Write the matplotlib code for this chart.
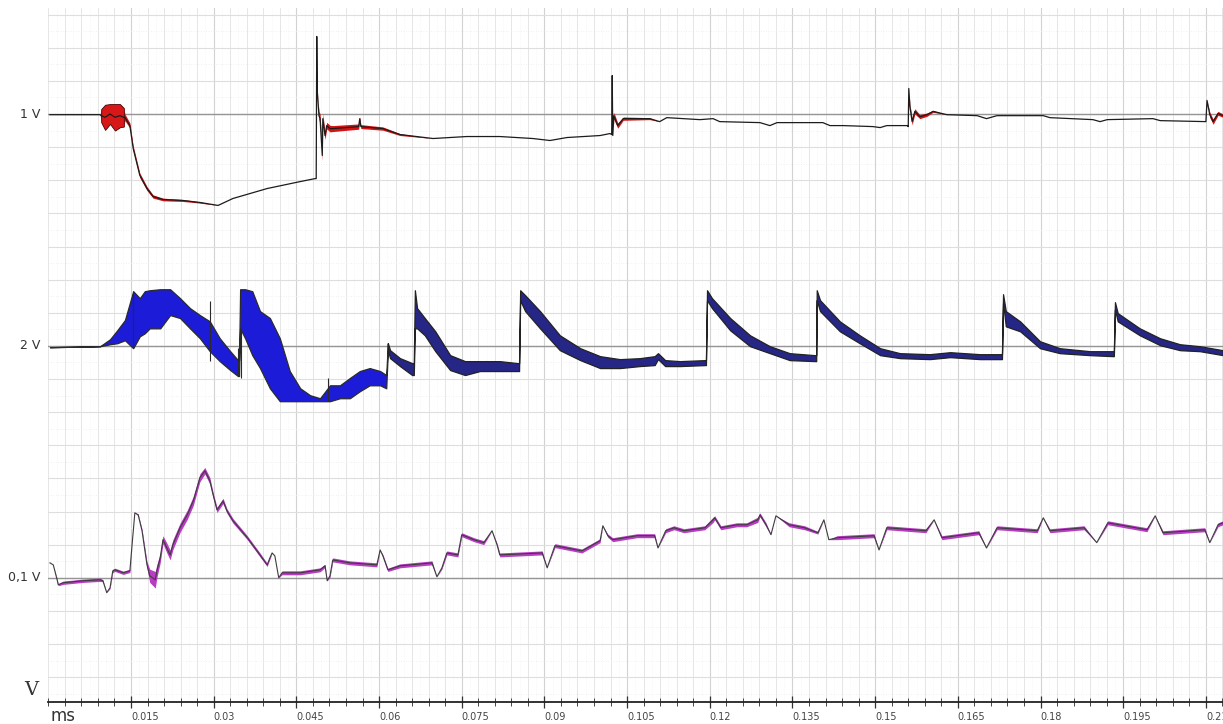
import numpy as np
import matplotlib
matplotlib.use("Agg")
import matplotlib.pyplot as plt
from matplotlib.ticker import MultipleLocator
from matplotlib.transforms import blended_transform_factory

# time axis (ms) and tick labels
tick_values = [0.015, 0.03, 0.045, 0.06, 0.075, 0.09, 0.105, 0.12,
               0.135, 0.15, 0.165, 0.18, 0.195, 0.21]
tick_labels = ["0.015", "0.03", "0.045", "0.06", "0.075", "0.09", "0.105",
               "0.12", "0.135", "0.15", "0.165", "0.18", "0.195", "0.21"]

# channel labels and their baseline offsets (in grid divisions)
channel_names = ["1 V", "2 V", "0,1 V"]
channel_offsets = [14, 7, 0]

# --- channel 1 (red): centre line and noise half-width, in divisions
ch1_t = [0.0003, 0.0094, 0.0096, 0.0103, 0.0112, 0.0121, 0.0130, 0.0137,
         0.0139, 0.0148, 0.0154, 0.0166,
         0.0179, 0.0190, 0.0208, 0.0244, 0.0275, 0.0308, 0.0335, 0.0397,
         0.0457, 0.0484, 0.0486, 0.0487, 0.0488, 0.0491, 0.0493, 0.0497,
         0.0498, 0.0502, 0.0505, 0.0511, 0.0516, 0.0563, 0.0565, 0.0567,
         0.0607, 0.0638, 0.0698, 0.0759, 0.0819, 0.0879, 0.0910, 0.0941,
         0.1001, 0.1019, 0.1022, 0.1023, 0.1024, 0.1026, 0.1028, 0.1033,
         0.1043, 0.1091, 0.1109, 0.1122, 0.1182, 0.1206, 0.1218, 0.1291,
         0.1309, 0.1322, 0.1405, 0.1418, 0.1442, 0.1496, 0.1509, 0.1521,
         0.1558, 0.1560, 0.1561, 0.1563, 0.1567, 0.1572, 0.1581, 0.1594,
         0.1605, 0.1630, 0.1685, 0.1702, 0.1721, 0.1805, 0.1817, 0.1895,
         0.1908, 0.1921, 0.2004, 0.2017, 0.2100, 0.2102, 0.2107, 0.2113,
         0.2122, 0.2131]
ch1_v = [-0.02, -0.02, -0.05, -0.10, 0.00, -0.10, -0.05, -0.10,
         -0.10, -0.35, -1.04, -1.85,
         -2.25, -2.49, -2.58, -2.61, -2.67, -2.76, -2.55, -2.25,
         -2.04, -1.95, -1.95, 2.34, 0.68, -0.05, -0.14, -1.25,
         -0.14, -0.65, -0.35, -0.44, -0.44, -0.38, -0.14, -0.38,
         -0.44, -0.62, -0.74, -0.68, -0.68, -0.74, -0.80, -0.71,
         -0.65, -0.59, -0.62, 1.16, -0.65, -0.05, -0.14, -0.35,
         -0.14, -0.14, -0.23, -0.11, -0.17, -0.14, -0.23, -0.26,
         -0.35, -0.26, -0.26, -0.35, -0.35, -0.38, -0.41, -0.35,
         -0.35, -0.38, 0.77, 0.23, -0.23, 0.08, -0.08, -0.02,
         0.08, -0.02, -0.05, -0.14, -0.05, -0.05, -0.11, -0.17,
         -0.23, -0.17, -0.14, -0.20, -0.23, 0.41, -0.02, -0.23,
         0.02, -0.05]
ch1_s = [0.0, 0.0, 0.20, 0.38, 0.30, 0.40, 0.35, 0.28,
         0.10, 0.08, 0.08, 0.07,
         0.06, 0.05, 0.04, 0.03, 0.02, 0.0, 0.0, 0.0,
         0.0, 0.0, 0.0, 0.0, 0.0, 0.12, 0.15, 0.15,
         0.15, 0.12, 0.10, 0.10, 0.09, 0.08, 0.05, 0.06,
         0.05, 0.03, 0.0, 0.0, 0.0, 0.0, 0.0, 0.0,
         0.0, 0.0, 0.0, 0.0, 0.0, 0.10, 0.10, 0.08,
         0.05, 0.03, 0.0, 0.0, 0.0, 0.0, 0.0, 0.0,
         0.0, 0.0, 0.0, 0.0, 0.0, 0.0, 0.0, 0.0,
         0.0, 0.0, 0.0, 0.08, 0.10, 0.08, 0.06, 0.05,
         0.03, 0.0, 0.0, 0.0, 0.0, 0.0, 0.0, 0.0,
         0.0, 0.0, 0.0, 0.0, 0.0, 0.0, 0.08, 0.08,
         0.06, 0.05]

# --- channel 2 (blue): upper and lower envelope, in divisions
ch2_t = [0.0003, 0.0094, 0.0112, 0.0125, 0.0139, 0.0154, 0.0166, 0.0175,
         0.0184, 0.0203, 0.0221, 0.0239, 0.0257, 0.0275, 0.0293, 0.0311,
         0.0330, 0.0344, 0.0346, 0.0348, 0.0357, 0.0370, 0.0384, 0.0402,
         0.0420, 0.0438, 0.0457, 0.0475, 0.0493, 0.0511, 0.0529, 0.0547,
         0.0565, 0.0583, 0.0602, 0.0613, 0.0616, 0.0620, 0.0638, 0.0660,
         0.0663, 0.0665, 0.0669, 0.0683, 0.0702, 0.0729, 0.0756, 0.0783,
         0.0819, 0.0852, 0.0854, 0.0856, 0.0865, 0.0892, 0.0928, 0.0965,
         0.1001, 0.1037, 0.1073, 0.1100, 0.1106, 0.1119, 0.1146, 0.1191,
         0.1193, 0.1195, 0.1204, 0.1237, 0.1273, 0.1309, 0.1345, 0.1391,
         0.1393, 0.1394, 0.1400, 0.1436, 0.1472, 0.1509, 0.1545, 0.1599,
         0.1636, 0.1690, 0.1726, 0.1730, 0.1732, 0.1737, 0.1763, 0.1799,
         0.1835, 0.1890, 0.1931, 0.1933, 0.1935, 0.1940, 0.1980, 0.2017,
         0.2053, 0.2089, 0.2131]
ch2_hi = [-0.04, -0.01, 0.20, 0.47, 0.78, 1.65, 1.44, 1.65,
          1.68, 1.71, 1.71, 1.44, 1.14, 0.93, 0.74, 0.23,
          -0.16, -0.43, -0.43, 1.71, 1.71, 1.65, 1.05, 0.84,
          0.23, -0.76, -1.28, -1.49, -1.58, -1.19, -1.19, -0.97,
          -0.76, -0.67, -0.76, -0.88, 0.08, -0.13, -0.37, -0.52,
          -0.52, 1.68, 1.14, 0.84, 0.44, -0.28, -0.46, -0.46,
          -0.46, -0.52, -0.52, 1.68, 1.53, 1.05, 0.32, -0.07,
          -0.31, -0.40, -0.37, -0.31, -0.22, -0.43, -0.46, -0.43,
          -0.43, 1.68, 1.44, 0.84, 0.32, -0.01, -0.22, -0.28,
          -0.28, 1.68, 1.38, 0.74, 0.32, -0.07, -0.22, -0.25,
          -0.19, -0.25, -0.25, -0.25, 1.56, 1.05, 0.74, 0.14,
          -0.07, -0.16, -0.16, -0.16, 1.32, 0.99, 0.53, 0.23,
          0.05, -0.01, -0.13]
ch2_lo = [-0.04, -0.01, 0.05, 0.08, 0.17, -0.07, 0.29, 0.38,
          0.53, 0.53, 0.93, 0.84, 0.53, 0.23, -0.16, -0.46,
          -0.73, -0.91, -0.91, 0.53, 0.23, -0.28, -0.67, -1.28,
          -1.67, -1.67, -1.67, -1.67, -1.67, -1.67, -1.58, -1.58,
          -1.37, -1.19, -1.19, -1.28, -0.13, -0.37, -0.61, -0.88,
          -0.88, 0.53, 0.53, 0.32, -0.16, -0.73, -0.88, -0.76,
          -0.76, -0.76, -0.76, 1.38, 1.05, 0.53, -0.13, -0.43,
          -0.67, -0.67, -0.61, -0.58, -0.40, -0.61, -0.61, -0.58,
          -0.58, 1.38, 1.14, 0.47, -0.01, -0.22, -0.43, -0.46,
          -0.46, 1.38, 1.05, 0.44, 0.08, -0.28, -0.37, -0.40,
          -0.34, -0.40, -0.40, -0.40, 1.30, 0.59, 0.44, -0.07,
          -0.22, -0.28, -0.31, -0.31, 1.10, 0.74, 0.32, 0.02,
          -0.13, -0.16, -0.28]
# isolated spikes on channel 2: time, top, bottom
ch2_spike_t = [0.0154, 0.0293, 0.0344, 0.0350, 0.0507]
ch2_spike_top = [1.65, 1.35, -0.07, 0.50, -0.97]
ch2_spike_bot = [-0.07, -0.46, -0.91, -0.97, -1.67]

# --- channel 3 (magenta): centre line and noise half-width, in divisions
ch3_t = [0.0003, 0.0009, 0.0016, 0.0018, 0.0027, 0.0063, 0.0094, 0.0099,
         0.0106, 0.0112, 0.0117, 0.0121, 0.0136, 0.0148, 0.0152, 0.0157,
         0.0163, 0.0170, 0.0179, 0.0184, 0.0194, 0.0197, 0.0203, 0.0208,
         0.0215, 0.0221, 0.0226, 0.0239, 0.0252, 0.0263, 0.0275, 0.0284,
         0.0293, 0.0299, 0.0306, 0.0317, 0.0324, 0.0335, 0.0361, 0.0384,
         0.0397, 0.0402, 0.0406, 0.0411, 0.0418, 0.0424, 0.0457, 0.0493,
         0.0502, 0.0506, 0.0511, 0.0516, 0.0547, 0.0596, 0.0602, 0.0607,
         0.0616, 0.0638, 0.0696, 0.0705, 0.0714, 0.0723, 0.0743, 0.0750,
         0.0772, 0.0790, 0.0805, 0.0814, 0.0819, 0.0896, 0.0905, 0.0919,
         0.0968, 0.1001, 0.1006, 0.1015, 0.1024, 0.1068, 0.1100, 0.1106,
         0.1120, 0.1135, 0.1153, 0.1191, 0.1206, 0.1209, 0.1220, 0.1249,
         0.1267, 0.1287, 0.1291, 0.1302, 0.1311, 0.1320, 0.1344, 0.1372,
         0.1396, 0.1407, 0.1416, 0.1431, 0.1498, 0.1507, 0.1521, 0.1592,
         0.1607, 0.1621, 0.1688, 0.1702, 0.1721, 0.1794, 0.1805, 0.1817,
         0.1879, 0.1902, 0.1922, 0.1993, 0.2008, 0.2022, 0.2098, 0.2107,
         0.2122, 0.2131]
ch3_v = [0.45, 0.39, -0.06, -0.21, -0.15, -0.09, -0.06, -0.09,
         -0.45, -0.30, 0.21, 0.24, 0.15, 0.21, 1.00, 1.96,
         1.90, 1.42, 0.39, 0.06, -0.06, 0.21, 0.60, 1.15,
         0.90, 0.69, 1.00, 1.51, 1.90, 2.32, 3.02, 3.23,
         2.93, 2.50, 2.05, 2.32, 2.02, 1.72, 1.21, 0.69,
         0.39, 0.60, 0.75, 0.66, 0.00, 0.15, 0.15, 0.24,
         0.36, -0.09, 0.06, 0.54, 0.45, 0.39, 0.84, 0.66,
         0.24, 0.36, 0.45, 0.03, 0.30, 0.75, 0.69, 1.30,
         1.15, 1.06, 1.42, 1.00, 0.69, 0.75, 0.30, 0.97,
         0.81, 1.12, 1.57, 1.27, 1.15, 1.27, 1.27, 0.90,
         1.42, 1.51, 1.42, 1.51, 1.75, 1.81, 1.51, 1.60,
         1.60, 1.75, 1.90, 1.60, 1.30, 1.87, 1.60, 1.51,
         1.36, 1.75, 1.15, 1.21, 1.27, 0.84, 1.51, 1.42,
         1.75, 1.21, 1.36, 0.90, 1.51, 1.42, 1.81, 1.42,
         1.51, 1.06, 1.66, 1.45, 1.87, 1.36, 1.45, 1.06,
         1.60, 1.66]
ch3_s = [0.0, 0.0, 0.03, 0.03, 0.05, 0.05, 0.05, 0.03,
         0.0, 0.03, 0.05, 0.05, 0.05, 0.05, 0.0, 0.0,
         0.03, 0.05, 0.10, 0.20, 0.25, 0.20, 0.15, 0.12,
         0.15, 0.15, 0.15, 0.14, 0.14, 0.14, 0.12, 0.10,
         0.10, 0.08, 0.08, 0.08, 0.07, 0.07, 0.06, 0.06,
         0.05, 0.04, 0.0, 0.0, 0.0, 0.06, 0.06, 0.06,
         0.05, 0.0, 0.05, 0.06, 0.06, 0.06, 0.0, 0.04,
         0.05, 0.06, 0.06, 0.0, 0.04, 0.06, 0.06, 0.06,
         0.06, 0.06, 0.0, 0.04, 0.06, 0.06, 0.0, 0.06,
         0.06, 0.06, 0.0, 0.05, 0.06, 0.06, 0.06, 0.0,
         0.06, 0.06, 0.06, 0.06, 0.08, 0.06, 0.06, 0.06,
         0.06, 0.08, 0.06, 0.06, 0.0, 0.0, 0.06, 0.06,
         0.04, 0.0, 0.0, 0.06, 0.06, 0.0, 0.06, 0.06,
         0.0, 0.06, 0.06, 0.0, 0.06, 0.06, 0.0, 0.06,
         0.06, 0.0, 0.06, 0.06, 0.0, 0.06, 0.06, 0.0,
         0.06, 0.06]

fig = plt.figure(figsize=(12.23, 7.24), dpi=100)
ax = fig.add_axes([48.3 / 1223, 22 / 724, 1 - 48.3 / 1223, 694 / 724])
ax.set_xlim(0, 0.2131)
ax.set_ylim(-3.75, 17.2)

# grid: solid every division / 0.003 ms, dotted halves
ax.xaxis.set_major_locator(MultipleLocator(0.015))
ax.xaxis.set_minor_locator(MultipleLocator(0.003))
ax.yaxis.set_major_locator(MultipleLocator(1))
ax.yaxis.set_minor_locator(MultipleLocator(0.5))
ax.grid(which="major", axis="x", color="#d2d2d2", lw=0.8)
ax.grid(which="minor", axis="x", color="#e6e6e6", lw=0.7)
ax.grid(which="major", axis="y", color="#dedede", lw=0.8)
ax.grid(which="minor", axis="y", color="#ececec", lw=0.6, ls=(0, (1, 2)))
for xv in np.arange(0.0015, 0.2131, 0.003):
    ax.axvline(xv, color="#f0f0f0", lw=0.5, ls=(0, (1, 2)), zorder=0)
ax.set_axisbelow(True)

for off in channel_offsets:
    ax.axhline(off, color="#959595", lw=1.0, zorder=1)

# channel 1
c1 = np.array(ch1_v) + channel_offsets[0]
s1 = np.array(ch1_s)
ax.fill_between(ch1_t, c1 - s1, c1 + s1, color="#d41414", lw=0, zorder=2)
ax.fill_between(ch1_t, c1 - s1, c1 + s1, where=s1 > 0.15, facecolor="#d81818",
                edgecolor="#4a1010", lw=0.6, zorder=2)
ax.plot(ch1_t, c1, color="#1c1c1c", lw=0.9, zorder=3)

# channel 2: bluer early burst, darker noisy decays later
hi2 = np.array(ch2_hi) + channel_offsets[1]
lo2 = np.array(ch2_lo) + channel_offsets[1]
t2 = np.array(ch2_t)
early = t2 <= 0.0616
ax.fill_between(t2, lo2, hi2, where=early, facecolor="#1c1cd8",
                edgecolor="#2a2a2a", lw=0.9, zorder=2)
ax.fill_between(t2, lo2, hi2, where=t2 >= 0.0616, facecolor="#262686",
                edgecolor="#222222", lw=0.9, zorder=2)
ax.vlines(ch2_spike_t, np.array(ch2_spike_bot) + channel_offsets[1],
          np.array(ch2_spike_top) + channel_offsets[1],
          color="#2a2a2a", lw=0.8, zorder=3)

# channel 3
c3 = np.array(ch3_v) + channel_offsets[2]
s3 = np.array(ch3_s)
ax.fill_between(ch3_t, c3 - s3, c3 + s3, color="#b83cc4", lw=0, zorder=2)
ax.plot(ch3_t, c3, color="#3c3c3c", lw=0.8, zorder=3)

# axes look
for side in ["top", "left", "right"]:
    ax.spines[side].set_visible(False)
ax.spines["bottom"].set_color("#222222")
ax.spines["bottom"].set_linewidth(1.3)
ax.set_xticks(tick_values)
ax.set_xticklabels(tick_labels)
ax.tick_params(axis="y", which="both", left=False, labelleft=False)
ax.tick_params(axis="x", which="major", direction="inout", length=8,
               width=0.9, color="#333333", pad=3, labelsize=7,
               labelcolor="#444444")
ax.tick_params(axis="x", which="minor", direction="inout", length=6,
               width=0.7, color="#444444")
for lbl in ax.get_xticklabels():
    lbl.set_ha("left")
    lbl.set_family(["Liberation Sans Narrow", "DejaVu Sans"])

trans = blended_transform_factory(fig.transFigure, ax.transData)
for name, off in zip(channel_names, channel_offsets):
    ax.text(40 / 1223, off, name, transform=trans, ha="right", va="center",
            fontsize=9, color="#333333")

fig.text(24 / 1223, 1 - 690 / 724, "V", fontsize=14, family="DejaVu Serif",
         color="#333333", va="center", ha="left")
fig.text(51 / 1223, 1 - 716 / 724, "ms", fontsize=12, color="#333333",
         va="center", ha="left")

fig.savefig("out.png", dpi=100, facecolor="white")
